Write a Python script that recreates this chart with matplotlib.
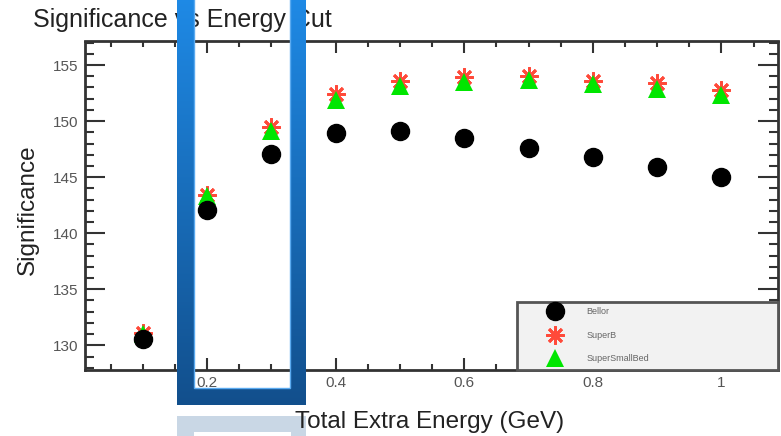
import numpy as np
import matplotlib.pyplot as plt
from matplotlib.patches import Rectangle
from matplotlib.ticker import MultipleLocator, FuncFormatter

plt.rcParams['font.family'] = ['Liberation Sans', 'DejaVu Sans']

# Significance for each total extra energy cut (GeV)
energy_cut = [0.1, 0.2, 0.3, 0.4, 0.5, 0.6, 0.7, 0.8, 0.9, 1.0]
sig_bellor = [130.6, 142.1, 147.1, 148.9, 149.1, 148.5, 147.6, 146.8, 145.9, 145.0]
sig_superb = [131.1, 143.4, 149.5, 152.4, 153.6, 153.9, 154.0, 153.6, 153.4, 152.8]
sig_smallbed = [131.0, 143.3, 149.1, 151.9, 153.1, 153.5, 153.7, 153.3, 152.9, 152.3]
labels = ["Bellor", "SuperB", "SuperSmallBed"]

W, H = 781, 436
fig = plt.figure(figsize=(W / 100, H / 100), dpi=100)
ax = fig.add_axes([85 / W, 1 - 370 / H, 693 / W, 328.5 / H])

h_sb, = ax.plot(energy_cut, sig_superb, linestyle='none', marker=(8, 2, 0),
                markersize=13, markeredgewidth=2, color='#ff4a3a', zorder=3)
h_sm, = ax.plot(energy_cut, sig_smallbed, linestyle='none', marker='^',
                markersize=13, color='#00e600', markeredgewidth=0, zorder=4)
h_be, = ax.plot(energy_cut, sig_bellor, linestyle='none', marker='o',
                markersize=13, color='black', zorder=5)

ax.set_xlim(0.01, 1.088)
ax.set_ylim(127.8, 157.1)

ax.xaxis.set_major_locator(MultipleLocator(0.2))
ax.xaxis.set_minor_locator(MultipleLocator(0.05))
ax.yaxis.set_major_locator(MultipleLocator(5))
ax.yaxis.set_minor_locator(MultipleLocator(1))
ax.xaxis.set_major_formatter(FuncFormatter(lambda v, p: '%g' % round(v, 2)))

ax.tick_params(which='both', direction='in', top=True, right=True,
               color='#333333', width=1.5, labelsize=11, labelcolor='#555555')
ax.tick_params(axis='x', which='major', length=8.6, pad=4)
ax.tick_params(axis='x', which='minor', length=4.3)
ax.tick_params(axis='y', which='major', length=14.4, pad=5)
ax.tick_params(axis='y', which='minor', length=6.5)
for s in ax.spines.values():
    s.set_linewidth(2)
    s.set_color('#333333')

# legend box in the lower right corner
ax.add_patch(Rectangle((0.6234, 0), 0.3766, 0.207, transform=ax.transAxes,
                       facecolor='#f2f2f2', edgecolor='#555555', lw=2,
                       zorder=6, clip_on=False))
leg = ax.legend([h_be, h_sb, h_sm], labels, loc='upper left',
                bbox_to_anchor=(0.658, 0.204), frameon=False, fontsize=6.5,
                numpoints=1, borderpad=0, handlelength=2, handletextpad=2.5,
                labelspacing=1.6, labelcolor='#666666')
leg.set_zorder(7)

fig.text(33 / W, 1 - 20 / H, "Significance vs Energy Cut", fontsize=18,
         color='#222222', ha='left', va='center')
fig.text(430 / W, 1 - 422 / H, "Total Extra Energy (GeV)", fontsize=17.5,
         color='#222222', ha='center', va='center', zorder=12)
fig.text(28 / W, 1 - 210 / H, "Significance", fontsize=17.5, rotation=90,
         color='#222222', ha='center', va='center')

# highlight frame drawn over the 0.2 - 0.3 region
ov = fig.add_axes([0, 0, 1, 1], zorder=10)
fh, fw = 405, 129
t = np.linspace(0, 1, fh)[:, None, None]
c_top = np.array([0.12, 0.54, 0.90])
c_bot = np.array([0.07, 0.31, 0.55])
img = np.ones((fh, fw, 4))
img[..., :3] = c_top + (c_bot - c_top) * t
img[:388, 17:113, 3] = 0
ov.imshow(img, extent=(177, 306, 405, 0), interpolation='nearest', aspect='auto')
ov.add_patch(Rectangle((194, -5), 96, 393, fill=False, edgecolor='#5aaaf0', lw=1))
ov.add_patch(Rectangle((177, 416), 129, 25, facecolor='#c9d7e5', edgecolor='none'))
ov.add_patch(Rectangle((194, 432), 97, 10, facecolor='white', edgecolor='none'))
ov.set_xlim(0, W)
ov.set_ylim(H, 0)
ov.axis('off')

fig.savefig('out.png', dpi=100)
